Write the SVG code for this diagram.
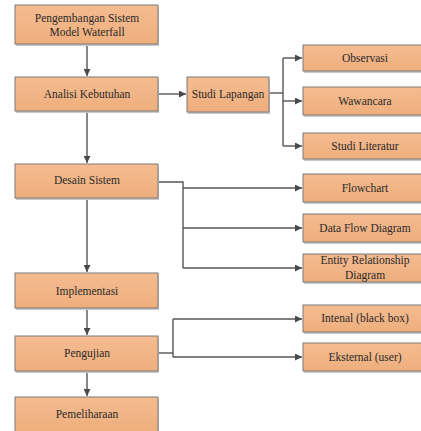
<svg xmlns="http://www.w3.org/2000/svg" width="421" height="431" viewBox="0 0 421 431" font-family="'Liberation Serif', 'Times New Roman', serif">
<defs>
<linearGradient id="g" x1="0" y1="0" x2="0" y2="1">
<stop offset="0" stop-color="#F4BC91"/>
<stop offset="1" stop-color="#EFAE7C"/>
</linearGradient>
<marker id="arr" viewBox="0 0 10 10" refX="10" refY="5" markerWidth="7" markerHeight="7" markerUnits="userSpaceOnUse" orient="auto">
<path d="M0,0 L10,5 L0,10 z" fill="#4a4a4a"/>
</marker>
</defs>
<style>
.box{fill:url(#g);stroke:#7a7a7a;stroke-width:1}
.sh{fill:#c8c8c8}
text{font-size:11.5px;fill:#2a2a2a;text-anchor:middle}
.c{fill:none;stroke:#555;stroke-width:1.4}
</style>
<g id="connectors">
<path class="c" d="M87,44 V76" marker-end="url(#arr)"/>
<path class="c" d="M158,94 H186" marker-end="url(#arr)"/>
<path class="c" d="M269,93 H283"/>
<path class="c" d="M283,58 V146"/>
<path class="c" d="M283,58 H302" marker-end="url(#arr)"/>
<path class="c" d="M283,101 H302" marker-end="url(#arr)"/>
<path class="c" d="M283,146 H302" marker-end="url(#arr)"/>
<path class="c" d="M87,111 V163" marker-end="url(#arr)"/>
<path class="c" d="M158,182 H183 V268"/>
<path class="c" d="M183,188 H302" marker-end="url(#arr)"/>
<path class="c" d="M183,228 H302" marker-end="url(#arr)"/>
<path class="c" d="M183,268 H302" marker-end="url(#arr)"/>
<path class="c" d="M87,198 V272" marker-end="url(#arr)"/>
<path class="c" d="M87,308 V335" marker-end="url(#arr)"/>
<path class="c" d="M158,353 H173"/>
<path class="c" d="M173,319 V357"/>
<path class="c" d="M173,319 H302" marker-end="url(#arr)"/>
<path class="c" d="M173,357 H302" marker-end="url(#arr)"/>
<path class="c" d="M87,371 V396" marker-end="url(#arr)"/>
</g>
<g id="n1"><rect class="sh" x="16" y="7" width="143" height="39"/><rect class="box" x="15" y="5" width="143" height="39"/><text x="87" y="22">Pengembangan Sistem</text><text x="87" y="36">Model Waterfall</text></g>
<g id="n2"><rect class="sh" x="16" y="79" width="143" height="34"/><rect class="box" x="15" y="77" width="143" height="34"/><text x="87" y="98">Analisi Kebutuhan</text></g>
<g id="n3"><rect class="sh" x="188" y="79" width="82" height="35"/><rect class="box" x="187" y="77" width="82" height="35"/><text x="228" y="98">Studi Lapangan</text></g>
<g id="n4"><rect class="sh" x="304" y="47" width="124" height="26"/><rect class="box" x="303" y="45" width="124" height="26"/><text x="365" y="62">Observasi</text></g>
<g id="n5"><rect class="sh" x="304" y="89" width="124" height="28"/><rect class="box" x="303" y="87" width="124" height="28"/><text x="365" y="105">Wawancara</text></g>
<g id="n6"><rect class="sh" x="304" y="135" width="124" height="26"/><rect class="box" x="303" y="133" width="124" height="26"/><text x="365" y="150">Studi Literatur</text></g>
<g id="n7"><rect class="sh" x="16" y="166" width="143" height="34"/><rect class="box" x="15" y="164" width="143" height="34"/><text x="87" y="184">Desain Sistem</text></g>
<g id="n8"><rect class="sh" x="304" y="176" width="124" height="28"/><rect class="box" x="303" y="174" width="124" height="28"/><text x="365" y="192">Flowchart</text></g>
<g id="n9"><rect class="sh" x="304" y="216" width="124" height="28"/><rect class="box" x="303" y="214" width="124" height="28"/><text x="365" y="232">Data Flow Diagram</text></g>
<g id="n10"><rect class="sh" x="304" y="256" width="124" height="28"/><rect class="box" x="303" y="254" width="124" height="28"/><text x="365" y="264">Entity Relationship</text><text x="365" y="279">Diagram</text></g>
<g id="n11"><rect class="sh" x="16" y="275" width="143" height="35"/><rect class="box" x="15" y="273" width="143" height="35"/><text x="87" y="295">Implementasi</text></g>
<g id="n12"><rect class="sh" x="304" y="307" width="124" height="27"/><rect class="box" x="303" y="305" width="124" height="27"/><text x="365" y="322">Intenal (black box)</text></g>
<g id="n13"><rect class="sh" x="304" y="345" width="124" height="28"/><rect class="box" x="303" y="343" width="124" height="28"/><text x="365" y="361">Eksternal (user)</text></g>
<g id="n14"><rect class="sh" x="16" y="338" width="143" height="35"/><rect class="box" x="15" y="336" width="143" height="35"/><text x="87" y="357">Pengujian</text></g>
<g id="n15"><rect class="sh" x="16" y="399" width="143" height="35"/><rect class="box" x="15" y="397" width="143" height="35"/><text x="87" y="418">Pemeliharaan</text></g>
</svg>
